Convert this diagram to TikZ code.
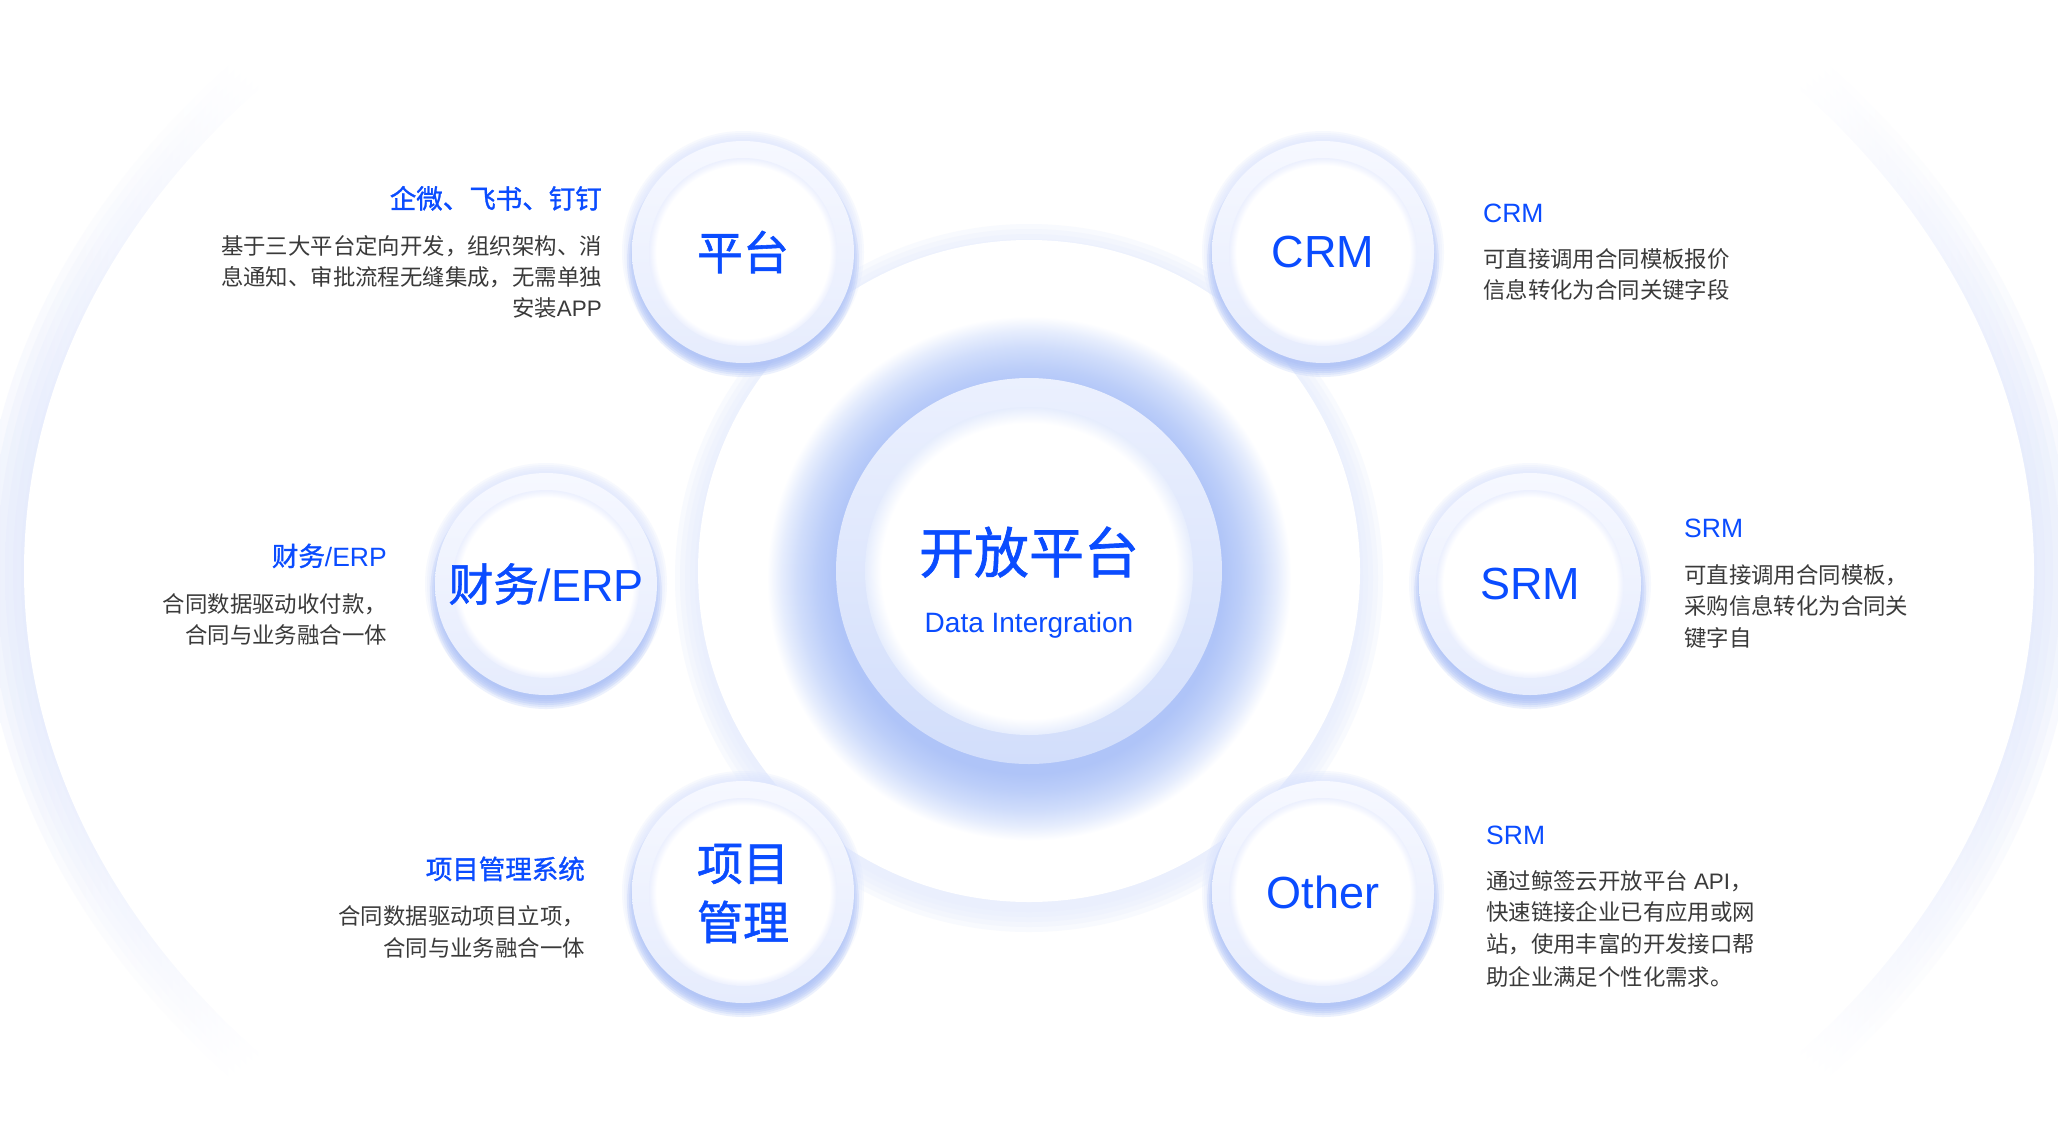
\documentclass[tikz,border=0pt]{standalone}
\usepackage{fontspec}
\setmainfont{Liberation Sans}
\newfontfamily\cjk{Noto Sans CJK SC}
\newfontfamily\cjkm{Noto Sans CJK SC}[FakeBold=1.2]

\definecolor{brandblue}{HTML}{0A4CFF}
\definecolor{bodygray}{HTML}{3A3A3A}
\definecolor{bigglow}{HTML}{DCE4FC}
\definecolor{faintglow}{HTML}{E6ECFD}
\definecolor{cgA}{HTML}{AFC4F8}
\definecolor{cgB}{HTML}{BCCEF9}
\definecolor{cgC}{HTML}{D0DDFB}
\definecolor{cgD}{HTML}{E6EDFD}
\definecolor{ringtop}{HTML}{EBF0FE}
\definecolor{ringbot}{HTML}{D2DEFB}
\definecolor{innerEdge}{HTML}{E6EDFD}
\definecolor{satglowall}{HTML}{DCE5FD}
\definecolor{satglow}{HTML}{A3BAF6}
\definecolor{satringtop}{HTML}{F6F8FF}
\definecolor{satringbot}{HTML}{E6ECFD}
\definecolor{satinnerEdge}{HTML}{ECF0FE}

% shading coordinates: path edge sits at 25bp (radial) and 25bp..75bp (axis)
\pgfdeclarehorizontalshading{bigsides}{100bp}{color(0bp)=(bigglow); color(25bp)=(bigglow); color(27.5bp)=(bigglow!50!white); color(31bp)=(white); color(69bp)=(white); color(72.5bp)=(bigglow!50!white); color(75bp)=(bigglow); color(100bp)=(bigglow)}
\pgfdeclareradialshading{cglowsh}{\pgfpoint{0bp}{-1.2bp}}{color(0bp)=(cgA); color(17bp)=(cgA); color(18.6bp)=(cgB); color(20.35bp)=(cgC); color(21.75bp)=(cgD); color(23bp)=(white); color(50bp)=(white)}
\pgfdeclareradialshading{innerwhite}{\pgfpointorigin}{color(0bp)=(white); color(22.5bp)=(white); color(25bp)=(innerEdge); color(50bp)=(innerEdge)}
\pgfdeclareradialshading{satinner}{\pgfpointorigin}{color(0bp)=(white); color(23bp)=(white); color(25bp)=(satinnerEdge); color(50bp)=(satinnerEdge)}

\tikzset{
  satellite/.pic={
    \foreach \r in {113,115,117,119,121} {\fill[satglowall, opacity=0.22] (0,0) circle (\r);}
    \foreach \r in {106,108,110,112,114,116} {\fill[satglow, opacity=0.2] (0,9) circle (\r);}
    \shade[top color=satringtop, bottom color=satringbot] (0,0) circle (111);
    \shade[shading=satinner] (0,0) circle (94);
  },
  satlabel/.style={text=brandblue, font=\fontsize{45}{59}\selectfont, inner sep=0pt, align=center},
  centertitle/.style={text=brandblue, font=\fontsize{55}{66}\selectfont, inner sep=0pt},
  centersub/.style={text=brandblue, font=\fontsize{28}{32}\selectfont, inner sep=0pt},
  blocktitle/.style={text=brandblue, font=\fontsize{26.5}{32}\selectfont, inner sep=0pt},
  bodytext/.style={text=bodygray, font=\fontsize{22.4}{31.5}\selectfont, inner sep=0pt},
}

\begin{document}
\begin{tikzpicture}[x=1pt,y=-1pt]
\useasboundingbox (0,0) rectangle (2058,1144);
\fill[white] (0,0) rectangle (2058,1144);

% huge ellipse with side glow
\foreach \a in {1008,1016,1024,1032,1040,1048} {
  \shade[shading=bigsides, opacity=0.22] (1029,571) ellipse ({\a} and {\a*0.7463});
}
\fill[white] (1029,571) ellipse (1005 and 750);

% faint circle
\foreach \r in {334,339,344,349,354} {\fill[faintglow, opacity=0.25] (1029,578) circle (\r);}
\fill[white] (1029,571) circle (331);

% central glow, ring and disk
\shade[shading=cglowsh] (1029,571) circle (285);
\shade[top color=ringtop, bottom color=ringbot] (1029,571) circle (193);
\shade[shading=innerwhite] (1029,571) circle (164);

\node[centertitle, anchor=base] (ctitle) at (1029,573) {\cjkm 开放平台};
\node[centersub, anchor=base] (csub) at (1029,632) {Data Intergration};

% satellites
\pic at (743,252) {satellite};
\pic at (1323,252) {satellite};
\pic at (546,584) {satellite};
\pic at (1530,584) {satellite};
\pic at (743,892) {satellite};
\pic at (1323,892) {satellite};

\node[satlabel, font=\fontsize{46}{59}\selectfont] (pt) at (743,252) {\cjkm 平台};
\node[satlabel] (crm) at (1323,252) {CRM};
\node[satlabel] (erp) at (546,584) {{\cjkm 财务}/ERP};
\node[satlabel] (srm) at (1530,584) {SRM};
\node[satlabel, font=\fontsize{46}{59}\selectfont] (pm) at (743,893.5) {\cjkm 项目\\\cjkm 管理};
\node[satlabel] (oth) at (1323,892) {Other};

% block: platform
\node[blocktitle, anchor=base east] (t1) at (602,208.5) {\cjkm 企微、飞书、钉钉};
\node[bodytext, anchor=base east] (t1a) at (602,254) {\cjk 基于三大平台定向开发，组织架构、消};
\node[bodytext, anchor=base east] (t1b) at (602,285.5) {\cjk 息通知、审批流程无缝集成，无需单独};
\node[bodytext, anchor=base east] (t1c) at (602,316.5) {{\cjk 安装}APP};

% block: CRM
\node[blocktitle, anchor=base west] (t2) at (1483,222.5) {CRM};
\node[bodytext, anchor=base west] (t2a) at (1483,267.5) {\cjk 可直接调用合同模板报价};
\node[bodytext, anchor=base west] (t2b) at (1483,298.5) {\cjk 信息转化为合同关键字段};

% block: ERP
\node[blocktitle, anchor=base east] (t3) at (387,566) {{\cjkm 财务}/ERP};
\node[bodytext, anchor=base east] (t3a) at (387,612.5) {\cjk 合同数据驱动收付款，};
\node[bodytext, anchor=base east] (t3b) at (387,643.5) {\cjk 合同与业务融合一体};

% block: SRM
\node[blocktitle, anchor=base west] (t4) at (1684,537.5) {SRM};
\node[bodytext, anchor=base west] (t4a) at (1684,583.5) {\cjk 可直接调用合同模板，};
\node[bodytext, anchor=base west] (t4b) at (1684,614.5) {\cjk 采购信息转化为合同关};
\node[bodytext, anchor=base west] (t4c) at (1684,646.5) {\cjk 键字自};

% block: project
\node[blocktitle, anchor=base east] (t5) at (585,879) {\cjkm 项目管理系统};
\node[bodytext, anchor=base east] (t5a) at (585,924.5) {\cjk 合同数据驱动项目立项，};
\node[bodytext, anchor=base east] (t5b) at (585,956.5) {\cjk 合同与业务融合一体};

% block: other
\node[blocktitle, anchor=base west] (t6) at (1486,844) {SRM};
\node[bodytext, anchor=base west] (t6a) at (1486,889.5) {{\cjk 通过鲸签云开放平台} API{\cjk ，}};
\node[bodytext, anchor=base west] (t6b) at (1486,920.5) {\cjk 快速链接企业已有应用或网};
\node[bodytext, anchor=base west] (t6c) at (1486,952.5) {\cjk 站，使用丰富的开发接口帮};
\node[bodytext, anchor=base west] (t6d) at (1486,985.5) {\cjk 助企业满足个性化需求。};
\end{tikzpicture}
\end{document}
